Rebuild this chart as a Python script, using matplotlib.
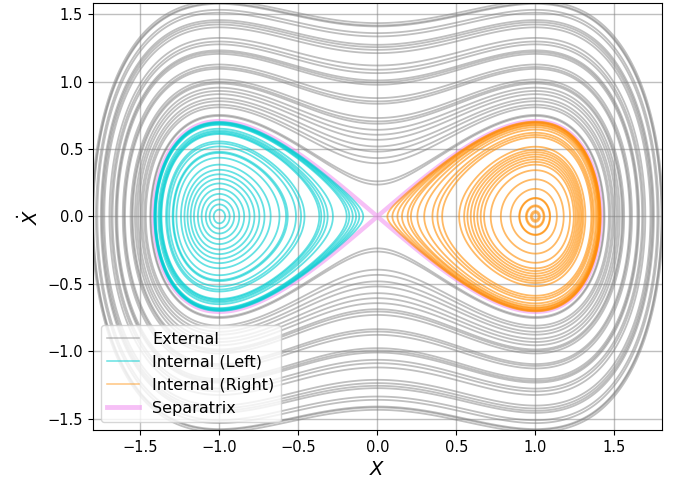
import numpy as np
import matplotlib
matplotlib.use("Agg")
import matplotlib.pyplot as plt
from matplotlib.lines import Line2D

# energy levels H = v^2/2 - x^2/2 + x^4/4
external_levels = [0.028, 0.034, 0.078, 0.094, 0.116, 0.135, 0.162, 0.184, 0.207,
                   0.237, 0.249, 0.267, 0.350, 0.365, 0.386, 0.478, 0.495, 0.510,
                   0.566, 0.593, 0.628, 0.735, 0.765, 0.790, 0.812, 0.893, 0.926,
                   0.995, 1.005, 1.030]
left_levels = [-0.2487, -0.246, -0.242, -0.236, -0.229, -0.220, -0.211, -0.201,
               -0.190, -0.176, -0.155, -0.139, -0.135, -0.115, -0.103, -0.095,
               -0.063, -0.059, -0.053, -0.047, -0.038, -0.0185, -0.0155, -0.012,
               -0.009, -0.0065, -0.004]
right_levels = [-0.2496, -0.2492, -0.2472, -0.2466, -0.241, -0.2405, -0.229, -0.212,
                -0.191, -0.176, -0.168, -0.160, -0.152, -0.144, -0.136, -0.128,
                -0.116, -0.077, -0.067, -0.057, -0.042, -0.031, -0.022, -0.018,
                -0.012, -0.008, -0.0045, -0.002]
separatrix_level = [0.0]


def energy(x, v):
    return 0.5 * v**2 - 0.5 * x**2 + 0.25 * x**4


xs = np.linspace(-1.85, 1.85, 1400)
vs = np.linspace(-1.65, 1.65, 1400)
X, V = np.meshgrid(xs, vs)
H = energy(X, V)
H_left = np.where(X < 0, H, np.nan)
H_right = np.where(X > 0, H, np.nan)

fig, ax = plt.subplots(figsize=(6.88, 4.87), dpi=100)
fig.subplots_adjust(left=0.135, right=0.962, top=0.994, bottom=0.117)

ax.contour(X, V, H, levels=external_levels, colors='gray', alpha=0.5,
           linewidths=1.3, linestyles='solid')
ax.contour(X, V, H, levels=separatrix_level, colors='violet', alpha=0.5,
           linewidths=3.2, linestyles='solid')
ax.contour(X, V, H_left, levels=left_levels, colors='darkturquoise', alpha=0.6,
           linewidths=1.3, linestyles='solid')
ax.contour(X, V, H_right, levels=right_levels, colors='darkorange', alpha=0.6,
           linewidths=1.3, linestyles='solid')

ax.set_xlim(-1.8, 1.8)
ax.set_ylim(-1.585, 1.585)
ax.set_xticks([-1.5, -1.0, -0.5, 0.0, 0.5, 1.0, 1.5])
ax.set_yticks([-1.5, -1.0, -0.5, 0.0, 0.5, 1.0, 1.5])
ax.grid(True, color='gray', alpha=0.5, linewidth=1)
ax.tick_params(labelsize=10.5)
ax.set_xlabel('$X$', fontsize=14)
ax.set_ylabel(r'$\dot{X}$', fontsize=14)

handles = [
    Line2D([], [], color='gray', alpha=0.5, lw=1.1, label='External'),
    Line2D([], [], color='darkturquoise', alpha=0.6, lw=1.1, label='Internal (Left)'),
    Line2D([], [], color='darkorange', alpha=0.5, lw=1.1, label='Internal (Right)'),
    Line2D([], [], color='violet', alpha=0.5, lw=3.5, label='Separatrix'),
]
ax.legend(handles=handles, loc='lower left', fontsize=11.5)

fig.savefig('out.png', dpi=100)
